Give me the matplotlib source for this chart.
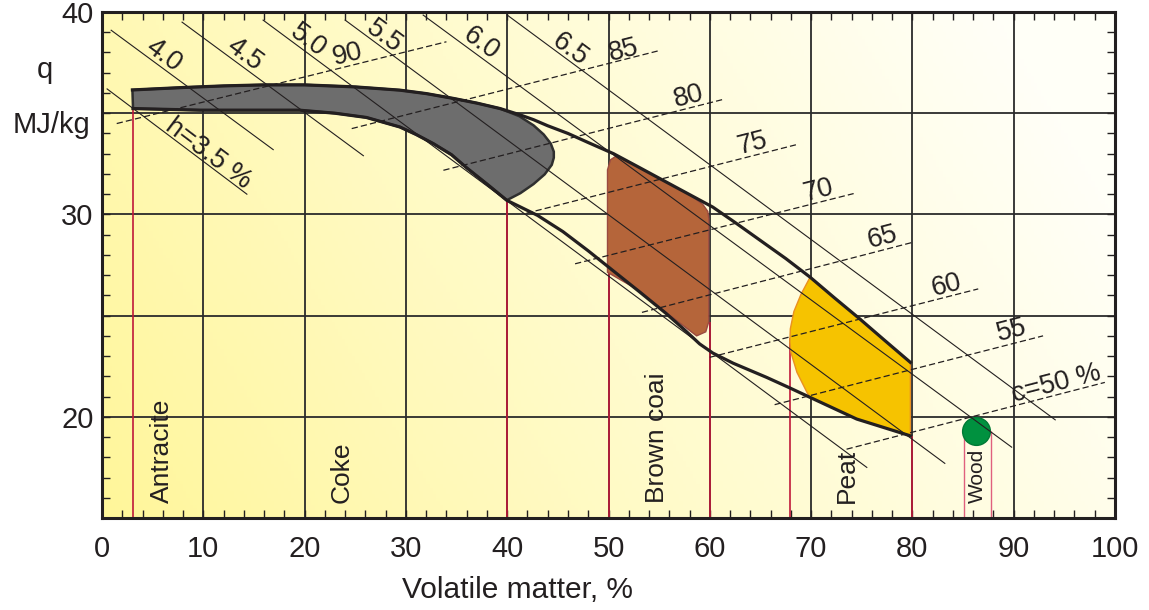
import numpy as np
import matplotlib
matplotlib.use("Agg")
import matplotlib.pyplot as plt
from matplotlib.ticker import MultipleLocator

plt.rcParams['font.family'] = ['Liberation Sans', 'DejaVu Sans']

# envelope curves of the fuel band (volatile matter %, q MJ/kg)
x_upper = [3.0, 8, 12, 16, 20, 25, 29.4, 32, 34.7, 37, 39.3, 41.2, 42.6, 44, 46, 48, 50.5, 53, 55.7, 58, 60.3,
           62.5, 65.0, 67.5, 69.9, 72.3, 74.8, 77.3, 79.8]
y_upper = [36.15, 36.27, 36.35, 36.4, 36.4, 36.3, 36.14, 35.97, 35.73, 35.5, 35.23, 34.93, 34.68, 34.38, 34.0,
           33.55, 33.0, 32.33, 31.6, 30.98, 30.36, 29.6, 28.71, 27.82, 26.9, 25.88, 24.84, 23.76, 22.69]
x_lower = [3.06, 9.7, 15, 19.5, 23, 26.1, 29.4, 31, 32.7, 34.5, 36.0, 38, 39.95, 43, 45.5, 48, 50.5, 53, 55.7,
           57.5, 59.0, 60.3, 62.3, 65.6, 67.8, 69.9, 74.5, 79.8]
y_lower = [35.23, 35.15, 35.15, 35.15, 35.0, 34.79, 34.32, 33.95, 33.5, 32.95, 32.3, 31.5, 30.7, 29.95, 29.15,
           28.2, 27.2, 26.2, 25.1, 24.3, 23.6, 23.15, 22.65, 21.95, 21.45, 20.96, 19.89, 19.06]

# fuel regions
coke_x = [3.0, 8, 12, 16, 20, 25, 29.4, 32, 34.7, 37, 39.3, 41.2, 42.6, 43.6, 44.3, 44.6, 44.6, 44.4, 43.7, 42.6,
          41.3, 39.95, 38, 36.0, 34.5, 32.7, 31, 29.4, 26.1, 23, 19.5, 15, 9.7, 3.06]
coke_y = [36.15, 36.27, 36.35, 36.4, 36.4, 36.3, 36.14, 35.97, 35.73, 35.5, 35.23, 34.85, 34.4, 33.95, 33.5,
          33.1, 32.8, 32.45, 31.98, 31.5, 31.05, 30.7, 31.5, 32.3, 32.95, 33.5, 33.95, 34.32, 34.79, 35.0,
          35.15, 35.15, 35.15, 35.23]
brown_x = [49.9, 49.9, 50.2, 50.8, 53, 55.7, 58, 59.3, 59.8, 59.9, 59.9, 59.6, 58.7, 55.7, 53, 49.9]
brown_y = [27.14, 32.2, 32.7, 32.9, 32.33, 31.6, 30.98, 30.5, 30.15, 29.8, 24.7, 24.2, 24.0, 25.15, 26.25, 27.14]
peat_x = [69.9, 69.0, 68.3, 67.95, 67.9, 68.0, 68.6, 69.6, 69.9, 74.5, 79.8, 79.8, 77.3, 74.8, 72.3, 69.9]
peat_y = [26.9, 26.05, 25.2, 24.35, 23.7, 23.2, 22.2, 21.2, 20.96, 19.89, 19.06, 22.69, 23.76, 24.84, 25.88, 26.9]
wood_x, wood_y = 86.3, 19.3

# boundary markers at the bottom (x, top y)
sep_x = [3.06, 40.0, 50.0, 60.0, 67.9, 80.0]
sep_top = [35.23, 30.7, 27.14, 24.7, 23.9, 19.06]
wood_sep_x = [85.1, 87.8]

# hydrogen lines h (solid): start and end points
h_labels = ['h=3.5 %', '4.0', '4.5', '5.0', '5.5', '6.0', '6.5']
h_x0 = [0.5, 0.9, 7.9, 15.9, 24.0, 31.7, 40.0]
h_y0 = [36.2, 39.1, 39.5, 39.6, 39.6, 39.85, 39.85]
h_x1 = [14.3, 16.9, 25.8, 75.5, 83.2, 89.8, 94.1]
h_y1 = [31.0, 33.2, 32.9, 17.5, 17.7, 18.5, 19.85]
h_lx = [10.5, 6.1, 14.1, 20.4, 27.9, 37.4, 46.2]
h_ly = [33.0, 37.87, 37.92, 38.61, 38.81, 38.42, 38.12]

# carbon lines c (dashed)
c_labels = ['90', '85', '80', '75', '70', '65', '60', '55', 'c=50 %']
c_x0 = [1.45, 24.65, 33.7, 41.9, 46.7, 53.3, 60.0, 66.4, 73.5]
c_y0 = [34.49, 34.24, 32.18, 30.06, 27.56, 25.16, 22.94, 20.6, 18.4]
c_x1 = [34.0, 54.9, 61.3, 68.5, 74.2, 80.1, 86.5, 92.9, 99.0]
c_y1 = [38.53, 38.08, 35.68, 33.44, 31.03, 28.63, 26.32, 24.0, 21.7]
c_lx = [24.2, 51.5, 57.9, 64.2, 70.7, 77.0, 83.4, 89.8, 94.2]
c_ly = [37.92, 38.12, 35.81, 33.5, 31.19, 28.85, 26.49, 24.26, 21.62]

fuel_names = ['Antracite', 'Coke', 'Brown coai', 'Peat', 'Wood']
fuel_lx = [5.9, 23.7, 54.8, 73.5, 86.4]

ink = '#231f20'
red = '#c0183a'

fig = plt.figure(figsize=(11.49, 6.10), dpi=100)
ax = fig.add_axes([0.0888, 0.1508, 0.8816, 0.8295])
ax.set_xlim(0, 100)
ax.set_ylim(15, 40)

# yellow to white background
xf, yf = np.meshgrid(np.linspace(0, 1, 300), np.linspace(0, 1, 150))
t = np.clip(0.85 * xf + 0.25 * yf, 0, 1) ** 0.9
c0 = np.array([1.0, 0.965, 0.60])
c1 = np.array([1.0, 1.0, 0.97])
bg = c0[None, None, :] * (1 - t[..., None]) + c1[None, None, :] * t[..., None]
ax.imshow(bg, extent=[0, 100, 40, 15], aspect='auto', zorder=0, origin='upper')

ax.set_xticks(np.arange(0, 101, 10))
ax.set_yticks([20, 25, 30, 35, 40])
ax.set_yticklabels(['20', '', '30', '', '40'])
ax.xaxis.set_minor_locator(MultipleLocator(2))
ax.yaxis.set_minor_locator(MultipleLocator(1))
ax.grid(True, which='major', color='#2b2b2b', lw=1.3)
ax.set_axisbelow(True)
ax.tick_params(which='both', direction='in', top=True, right=True, color=ink, width=1)
ax.tick_params(which='major', length=6, labelsize=21, labelcolor=ink)
ax.tick_params(which='minor', length=6)
ax.tick_params(axis='x', pad=12)
ax.tick_params(axis='y', pad=6)
for s in ax.spines.values():
    s.set_linewidth(2.2)
    s.set_color(ink)
    s.set_zorder(10)

# red separators
ax.vlines(sep_x, 15, sep_top, color=red, lw=1.2, zorder=2)
ax.vlines(wood_sep_x, 15, wood_y, color='#e0607e', lw=1.0, zorder=2)

# regions
ax.fill(coke_x, coke_y, facecolor='#6d6d6d', edgecolor='#2f2f2f', lw=1.8, zorder=3)
ax.fill(brown_x, brown_y, facecolor='#b5653a', edgecolor='#9a4a40', lw=1.0, zorder=3)
ax.fill(peat_x, peat_y, facecolor='#f6c300', edgecolor='#ea9020', lw=1.0, zorder=3)
ax.plot([wood_x], [wood_y], 'o', ms=20, color='#00913f', mec='#007a35', zorder=3)

# h and c lines
for i in range(len(h_labels)):
    ax.plot([h_x0[i], h_x1[i]], [h_y0[i], h_y1[i]], color=ink, lw=0.8, zorder=4)
for i in range(len(c_labels)):
    ax.plot([c_x0[i], c_x1[i]], [c_y0[i], c_y1[i]], color=ink, lw=0.9, ls=(0, (5, 2.5)), zorder=4)

# envelope
ax.plot(x_upper, y_upper, color=ink, lw=2.3, zorder=5, solid_joinstyle='round')
ax.plot(x_lower, y_lower, color=ink, lw=2.3, zorder=5, solid_joinstyle='round')


def screen_angle(x0, y0, x1, y1):
    p0 = ax.transData.transform((x0, y0))
    p1 = ax.transData.transform((x1, y1))
    return np.degrees(np.arctan2(p1[1] - p0[1], p1[0] - p0[0]))


for i in range(len(h_labels)):
    ang = screen_angle(h_x0[i], h_y0[i], h_x1[i], h_y1[i])
    ax.text(h_lx[i], h_ly[i], h_labels[i], rotation=ang, rotation_mode='anchor',
            ha='center', va='center', fontsize=19.5, color=ink, zorder=6)
for i in range(len(c_labels)):
    ang = screen_angle(c_x0[i], c_y0[i], c_x1[i], c_y1[i])
    ax.text(c_lx[i], c_ly[i], c_labels[i], rotation=ang, rotation_mode='anchor',
            ha='center', va='center', fontsize=19.5, color=ink, zorder=6)

for name, lx in zip(fuel_names, fuel_lx):
    ax.text(lx, 15.76, name, rotation=90, ha='center', va='bottom',
            fontsize=15 if name == 'Wood' else 19, color=ink, zorder=6)

ax.text(-0.056, 37.13, 'q', transform=ax.get_yaxis_transform(), ha='center', va='center',
        fontsize=21, color=ink)
ax.text(-0.05, 34.4, 'MJ/kg', transform=ax.get_yaxis_transform(), ha='center', va='center',
        fontsize=21, color=ink)
ax.text(0.41, -0.142, 'Volatile matter, %', transform=ax.transAxes, ha='center', va='center',
        fontsize=21.5, color=ink)

fig.savefig('out.png', dpi=100)
